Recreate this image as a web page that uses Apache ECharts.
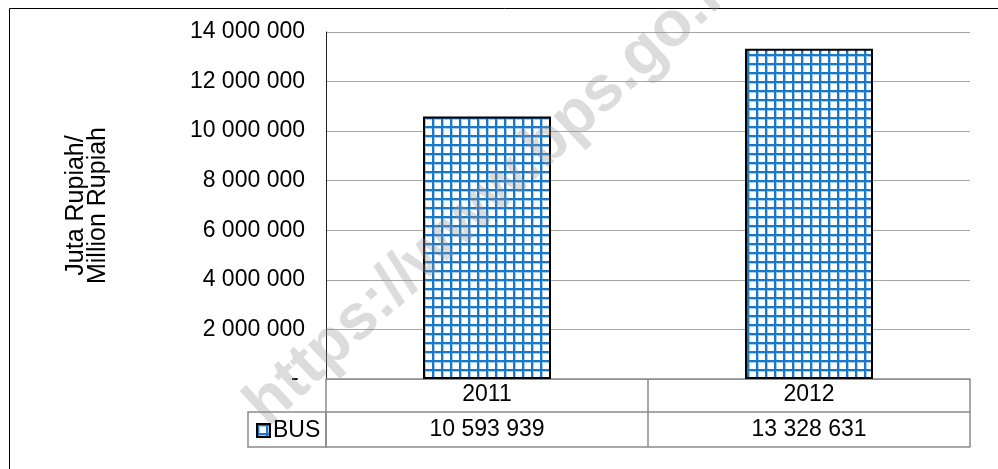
<!DOCTYPE html>
<html>
<head>
<meta charset="utf-8">
<script src="https://cdn.jsdelivr.net/npm/echarts@6/dist/echarts.min.js"></script>
<style>
  html, body { margin: 0; padding: 0; background: #fff; }
  #chart { width: 998px; height: 469px; }
</style>
</head>
<body>
<div id="chart"></div>
<script>
var years = ['2011', '2012'];
var bus = [10593939, 13328631];
var yTicks = [0, 2000000, 4000000, 6000000, 8000000, 10000000, 12000000, 14000000];

// angka pakai spasi sebagai pemisah ribuan
function fmt(v) {
    return String(v).replace(/\B(?=(\d{3})+(?!\d))/g, ' ');
}

// pola kotak-kotak biru untuk batang
function makePattern() {
    var c = document.createElement('canvas');
    c.width = 9; c.height = 9;
    var ctx = c.getContext('2d');
    ctx.fillStyle = '#ffffff';
    ctx.fillRect(0, 0, 9, 9);
    ctx.fillStyle = '#a8cdec';
    ctx.fillRect(0, 0, 3, 9);
    ctx.fillRect(0, 0, 9, 3);
    ctx.fillStyle = '#1a78c8';
    ctx.fillRect(0, 0, 2, 9);
    ctx.fillRect(0, 0, 9, 2);
    return c;
}
var pattern = { image: makePattern(), repeat: 'repeat' };

var gray = '#8c8c8c';
var chart = echarts.init(document.getElementById('chart'));
chart.setOption({
    animation: false,
    textStyle: { fontFamily: 'Liberation Sans, Arial, sans-serif' },
    grid: { left: 326, right: 28, top: 32, bottom: 90 },
    legend: {
        left: 251, top: 414,
        itemWidth: 13, itemHeight: 13, itemGap: 4,
        icon: 'rect',
        textStyle: { fontSize: 23, color: '#000', padding: [0, 0, 0, -2] },
        data: ['BUS']
    },
    xAxis: [{
        type: 'category',
        data: years,
        axisLine: { lineStyle: { color: gray, width: 1.5 } },
        axisTick: { show: true, length: 68, lineStyle: { color: gray, width: 1.5 } },
        axisLabel: { fontSize: 23, color: '#000', margin: 4 }
    }, {
        type: 'category',
        position: 'bottom',
        offset: 33,
        data: bus.map(fmt),
        axisLine: { lineStyle: { color: gray, width: 1.5 } },
        axisTick: { show: false },
        axisLabel: { fontSize: 23, color: '#000', margin: 6 }
    }, {
        type: 'category',
        position: 'bottom',
        offset: 68,
        data: years,
        axisLine: { lineStyle: { color: gray, width: 1.5 } },
        axisTick: { show: false },
        axisLabel: { show: false }
    }],
    yAxis: {
        type: 'value',
        min: 0, max: 14000000, interval: 2000000,
        name: 'Juta Rupiah/\nMillion Rupiah',
        nameLocation: 'middle',
        nameRotate: 90,
        nameGap: 217,
        nameTextStyle: { fontSize: 25, color: '#000', lineHeight: 22 },
        axisLine: { show: true, lineStyle: { color: '#222', width: 1 } },
        axisTick: { show: false },
        splitLine: { lineStyle: { color: '#a6a6a6', width: 1 } },
        axisLabel: {
            fontSize: 23, color: '#000', margin: 21,
            formatter: function (v) { return v === 0 ? '- ' : fmt(v); }
        }
    },
    series: [{
        name: 'BUS',
        type: 'bar',
        data: bus,
        barWidth: 128,
        itemStyle: { color: pattern, borderColor: '#000', borderWidth: 2 }
    }],
    graphic: [{
        type: 'rect',
        silent: true,
        shape: { x: 9.5, y: 8.5, width: 1200, height: 800 },
        style: { fill: 'none', stroke: '#000', lineWidth: 1 },
        z: -10
    }, {
        type: 'rect',
        silent: true,
        shape: { x: 248, y: 412, width: 78, height: 35 },
        style: { fill: 'none', stroke: gray, lineWidth: 1.5 }
    }, {
        type: 'text',
        silent: true,
        x: 256, y: 415,
        rotation: 0.75,
        z: 100,
        style: {
            text: 'https://www.bps.go.id',
            fontSize: 64, fontWeight: 'bold',
            fontFamily: 'Liberation Sans, Arial, sans-serif',
            fill: 'rgba(150,150,150,0.33)',
            align: 'left', verticalAlign: 'middle'
        }
    }]
});
</script>
</body>
</html>
